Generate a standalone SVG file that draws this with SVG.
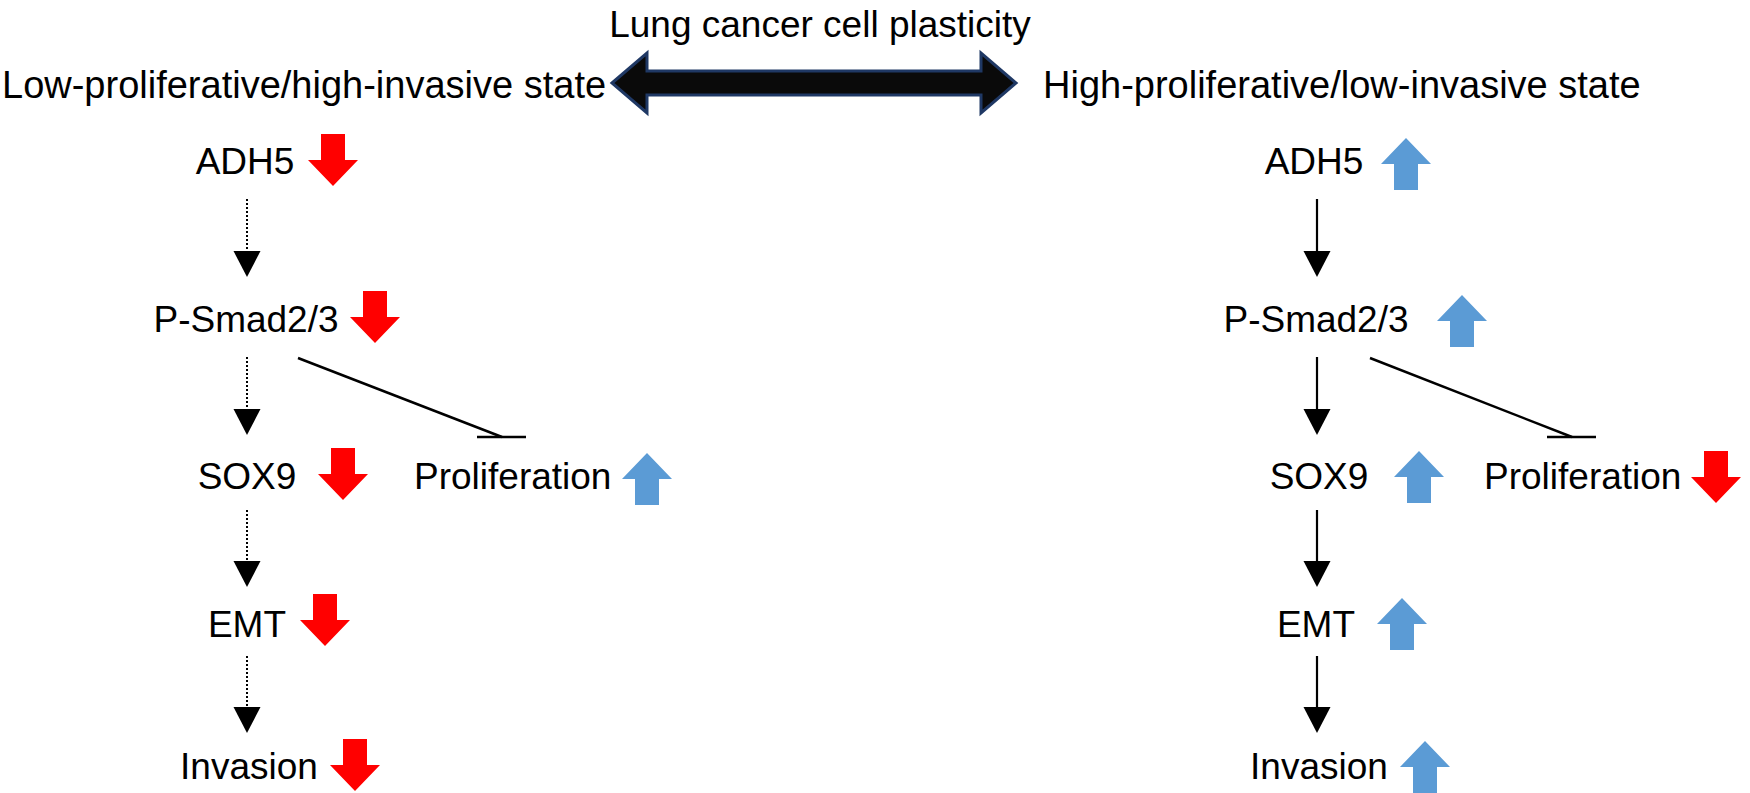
<svg xmlns="http://www.w3.org/2000/svg" xmlns:xlink="http://www.w3.org/1999/xlink" width="1750" height="793" viewBox="0 0 1750 793">
<style>
text{font-family:"Liberation Sans",Arial,sans-serif;font-size:37px;fill:#000}
.hdr{font-size:38px}
.m{text-anchor:middle}
.solid{stroke:#000;stroke-width:2.2;fill:none}
.dot{stroke:#000;stroke-width:2;fill:none;stroke-dasharray:2 2}
.inh{stroke:#000;stroke-width:2.5;fill:none}
.head{fill:#000}
.down{fill:#ff0000}
.up{fill:#5b9bd5}
</style>
<defs>
<path id="dn" d="M13,0 H37 V26 H50 L25,52 L0,26 H13 Z"/>
<path id="upa" d="M25,0 L50,26 H37 V52 H13 V26 H0 Z"/>
<path id="ah" d="M-13.5,0 H13.5 L0,26 Z"/>
</defs>
<rect width="1750" height="793" fill="#fff"/>

<g id="title"><text class="m" x="820" y="37">Lung cancer cell plasticity</text></g>
<g id="plasticity-arrow">
<path d="M612,83 L647,53 V71 H981 V53 L1016,83 L981,113 V95 H647 V113 Z" fill="#0a0a0a" stroke="#1f3864" stroke-width="3" stroke-linejoin="miter"/>
</g>
<g id="header-left"><text class="hdr" x="2" y="98">Low-proliferative/high-invasive state</text></g>
<g id="header-right"><text class="hdr" x="1043" y="98">High-proliferative/low-invasive state</text></g>

<!-- Left column -->
<g id="L-ADH5"><text class="m" x="245" y="174">ADH5</text><use href="#dn" class="down" x="308" y="134"/></g>
<g id="L-PSmad"><text class="m" x="246" y="332">P-Smad2/3</text><use href="#dn" class="down" x="350" y="291"/></g>
<g id="L-SOX9"><text class="m" x="247" y="489">SOX9</text><use href="#dn" class="down" x="318" y="448"/></g>
<g id="L-Prolif"><text x="414" y="489">Proliferation</text><use href="#upa" class="up" x="622" y="453"/></g>
<g id="L-EMT"><text class="m" x="247" y="637">EMT</text><use href="#dn" class="down" x="300" y="594"/></g>
<g id="L-Invasion"><text class="m" x="249" y="779">Invasion</text><use href="#dn" class="down" x="330" y="739"/></g>

<!-- Right column -->
<g id="R-ADH5"><text class="m" x="1314" y="174">ADH5</text><use href="#upa" class="up" x="1381" y="138"/></g>
<g id="R-PSmad"><text class="m" x="1316" y="332">P-Smad2/3</text><use href="#upa" class="up" x="1437" y="295"/></g>
<g id="R-SOX9"><text class="m" x="1319" y="489">SOX9</text><use href="#upa" class="up" x="1394" y="451"/></g>
<g id="R-Prolif"><text x="1484" y="489">Proliferation</text><use href="#dn" class="down" x="1691" y="451"/></g>
<g id="R-EMT"><text class="m" x="1316" y="637">EMT</text><use href="#upa" class="up" x="1377" y="598"/></g>
<g id="R-Invasion"><text class="m" x="1319" y="779">Invasion</text><use href="#upa" class="up" x="1400" y="741"/></g>

<g id="connectors">
<line class="dot" x1="247" y1="199" x2="247" y2="251"/><use href="#ah" class="head" x="247" y="251"/>
<line class="dot" x1="247" y1="357" x2="247" y2="409"/><use href="#ah" class="head" x="247" y="409"/>
<line class="dot" x1="247" y1="510" x2="247" y2="561"/><use href="#ah" class="head" x="247" y="561"/>
<line class="dot" x1="247" y1="656" x2="247" y2="707"/><use href="#ah" class="head" x="247" y="707"/>
<line class="inh" x1="298" y1="358" x2="502" y2="437"/><line class="inh" x1="477" y1="437" x2="526" y2="437"/>

<line class="solid" x1="1317" y1="199" x2="1317" y2="251"/><use href="#ah" class="head" x="1317" y="251"/>
<line class="solid" x1="1317" y1="357" x2="1317" y2="409"/><use href="#ah" class="head" x="1317" y="409"/>
<line class="solid" x1="1317" y1="510" x2="1317" y2="561"/><use href="#ah" class="head" x="1317" y="561"/>
<line class="solid" x1="1317" y1="656" x2="1317" y2="707"/><use href="#ah" class="head" x="1317" y="707"/>
<line class="inh" x1="1370" y1="358" x2="1572" y2="437"/><line class="inh" x1="1547" y1="437" x2="1596" y2="437"/>
</g>
</svg>
